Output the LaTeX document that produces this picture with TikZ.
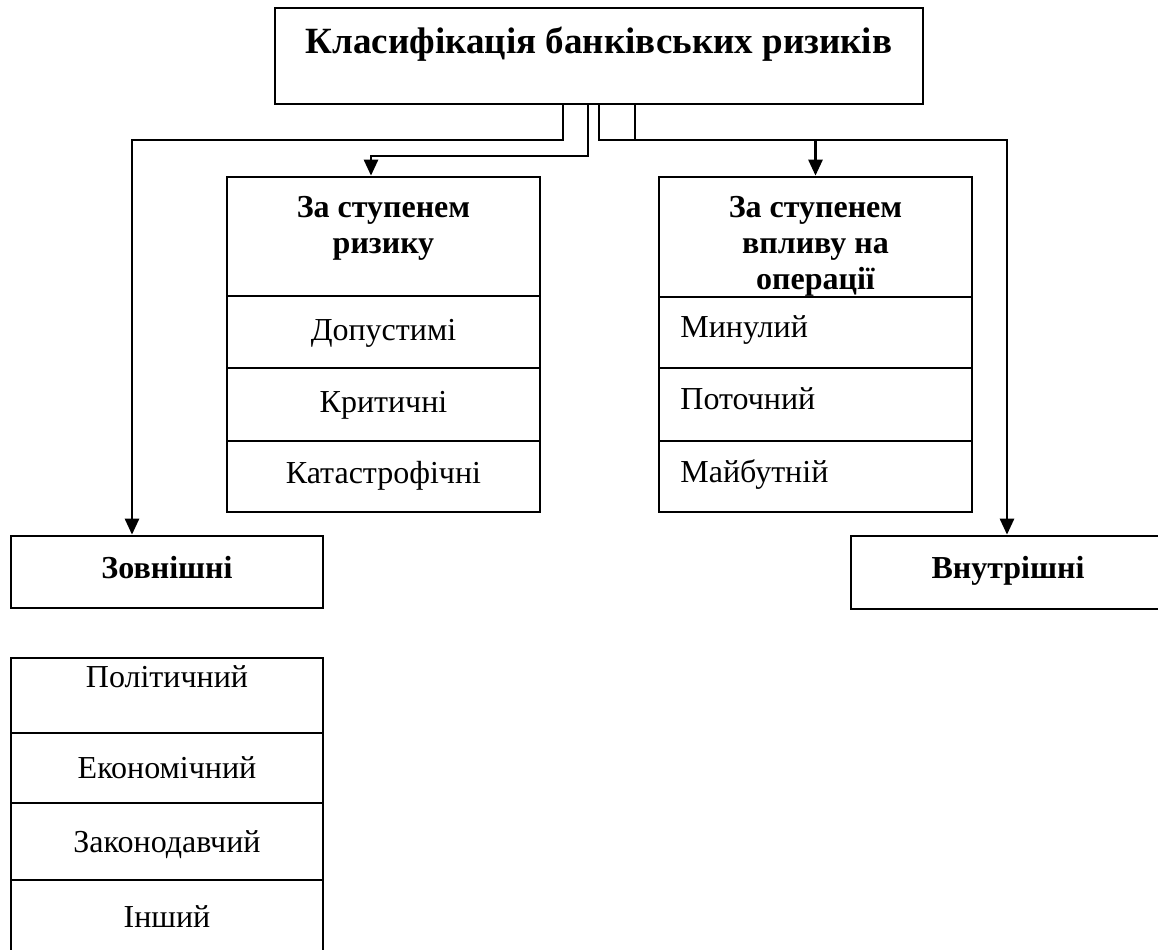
\documentclass[tikz,border=0pt]{standalone}
\usepackage{fontspec}
\setmainfont{Liberation Serif}
\usetikzlibrary{arrows.meta,fit}
\begin{document}
\begin{tikzpicture}[x=0.5pt,y=-0.5pt,
  box/.style={draw, line width=1.35pt, rectangle, inner sep=0pt},
  conn/.style={line width=1.35pt},
  arr/.style={conn, -{Triangle[length=8pt,width=7pt]}},
  ttxt/.style={font=\fontsize{18.5}{21}\selectfont\bfseries, inner sep=0pt},
  btxt/.style={font=\fontsize{16}{18}\selectfont\bfseries, align=center, inner sep=0pt},
  rtxt/.style={font=\fontsize{16}{18}\selectfont, inner sep=0pt},
]
\useasboundingbox (0,0) rectangle (1158,949);

% top box
\node[box, fit={(275,8) (923,104)}] (top) {};
\node[ttxt, anchor=base] (toptxt) at (599,53) {Класифікація банківських ризиків};

% left middle box
\node[box, fit={(227,177) (540,296)}] (lhead) {};
\node[btxt, anchor=north] (lheadtxt) at (383.5,196) {За ступенем\\ризику};
\node[box, fit={(227,296) (540,368)}] (l1) {};
\node[box, fit={(227,368) (540,441)}] (l2) {};
\node[box, fit={(227,441) (540,512)}] (l3) {};
\node[rtxt, anchor=base] (l1t) at (383.5,340) {Допустимі};
\node[rtxt, anchor=base] (l2t) at (383.5,412) {Критичні};
\node[rtxt, anchor=base] (l3t) at (383.5,483) {Катастрофічні};

% right middle box
\node[box, fit={(659,177) (972,297)}] (rhead) {};
\node[btxt, anchor=north] (rheadtxt) at (815.5,196) {За ступенем\\впливу на\\операції};
\node[box, fit={(659,297) (972,368)}] (r1) {};
\node[box, fit={(659,368) (972,441)}] (r2) {};
\node[box, fit={(659,441) (972,512)}] (r3) {};
\node[rtxt, anchor=base west] (r1t) at (680,337) {Минулий};
\node[rtxt, anchor=base west] (r2t) at (680,409) {Поточний};
\node[rtxt, anchor=base west] (r3t) at (680,482) {Майбутній};

% bottom boxes
\node[box, fit={(11,536) (323,608)}] (zov) {};
\node[btxt, anchor=base] (zovt) at (167,578) {Зовнішні};
\node[box, fit={(851,536) (1166,609)}] (vnu) {};
\node[btxt, anchor=base] (vnut) at (1008,578) {Внутрішні};

% list of external risks
\node[box, fit={(11,658) (323,733)}] (e1) {};
\node[box, fit={(11,733) (323,803)}] (e2) {};
\node[box, fit={(11,803) (323,880)}] (e3) {};
\node[box, fit={(11,880) (323,953)}] (e4) {};
\node[rtxt, anchor=base] (e1t) at (167,687) {Політичний};
\node[rtxt, anchor=base] (e2t) at (167,778) {Економічний};
\node[rtxt, anchor=base] (e3t) at (167,852) {Законодавчий};
\node[rtxt, anchor=base] (e4t) at (167,927) {Інший};

% connector helper coordinates
\coordinate (xa) at (563,0);
\coordinate (xb) at (588,0);
\coordinate (xc) at (599,0);
\coordinate (xd) at (635,0);
\coordinate (xz) at (132,0);
\coordinate (xl) at (371,0);
\coordinate (xv) at (1007,0);
\coordinate (ya) at (0,140);
\coordinate (yb) at (0,156);

% connectors
\draw[arr] (top.south -| xa) |- (ya -| xz) -- (zov.north -| xz);
\draw[arr] (top.south -| xb) |- (yb -| xl) -- (lhead.north -| xl);
\draw[arr] (top.south -| xc) |- (ya -| xv) -- (vnu.north -| xv);
\draw[conn] (top.south -| xd) -- (ya -| xd);
\draw[arr] (ya -| rhead.north) -- (rhead.north);
\end{tikzpicture}
\end{document}
